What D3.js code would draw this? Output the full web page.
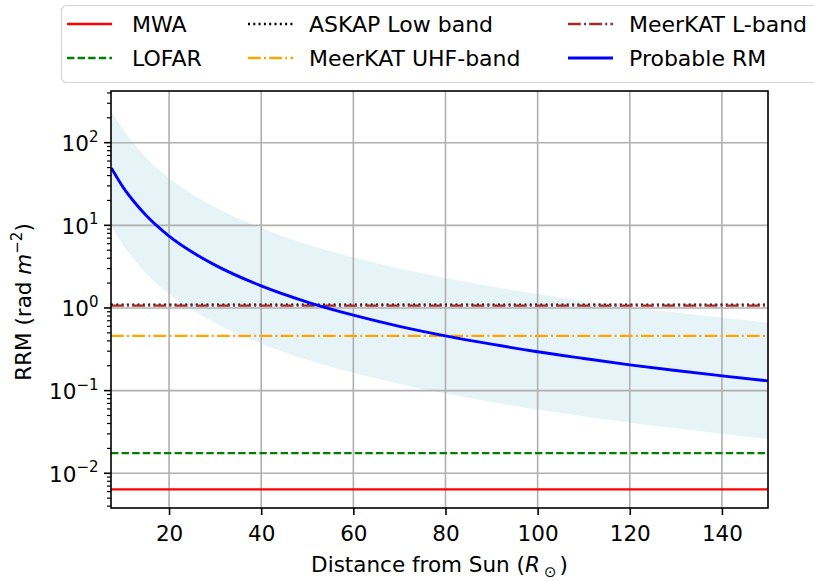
<!DOCTYPE html>
<html>
<head>
<meta charset="utf-8">
<script src="https://cdn.jsdelivr.net/npm/d3@7"></script>
<style>
body { margin: 0; background: #fff; }
text { font-family: "DejaVu Sans", sans-serif; fill: #000; }
</style>
</head>
<body>
<svg id="chart" width="814" height="581"></svg>
<script>
// values
var distance   = [7.5, 10, 12.5, 15, 20, 25, 30, 40, 50, 60, 70, 80, 90, 100, 110, 120, 130, 140, 150];
var probableRM = [49, 29, 19, 13.2, 7.4, 4.75, 3.3, 1.85, 1.18, 0.82, 0.60, 0.46, 0.365, 0.295, 0.245, 0.205, 0.175, 0.151, 0.131];
var rmUpper    = [237, 145, 95, 66, 37, 24, 16.5, 9.3, 5.9, 4.1, 3.0, 2.3, 1.82, 1.48, 1.22, 1.03, 0.88, 0.76, 0.66];
var rmLower    = [9.8, 5.8, 3.8, 2.6, 1.48, 0.95, 0.66, 0.37, 0.236, 0.164, 0.12, 0.092, 0.073, 0.059, 0.049, 0.041, 0.035, 0.030, 0.026];

var instruments   = ["MWA", "LOFAR", "ASKAP Low band", "MeerKAT UHF-band", "MeerKAT L-band"];
var instrumentRRM = [0.0064, 0.0175, 1.1, 0.46, 1.07];

var xTicks = [20, 40, 60, 80, 100, 120, 140];
var yTicks = [1e-2, 1e-1, 1e0, 1e1, 1e2];
var yExponents = ["\u22122", "\u22121", "0", "1", "2"];

var lineStyles = [
  { color: "#ff0000", dash: null },
  { color: "#008000", dash: "7.4,3.2" },
  { color: "#000000", dash: "2,3.3" },
  { color: "#ffa500", dash: "12.8,3.2,2,3.2" },
  { color: "#a52a2a", dash: "12.8,3.2,2,3.2" }
];

var svg = d3.select("#chart");
var plotL = 111, plotT = 91, plotR = 768, plotB = 508;

var x = d3.scaleLinear().domain([7.4, 150]).range([plotL, plotR]);
var y = d3.scaleLog().domain([0.0038, 422]).range([plotB, plotT]);

svg.append("defs").append("clipPath").attr("id", "plotclip")
  .append("rect").attr("x", plotL).attr("y", plotT)
  .attr("width", plotR - plotL).attr("height", plotB - plotT);

// band
var band = d3.area()
  .x(function(d, i) { return x(distance[i]); })
  .y0(function(d, i) { return y(rmLower[i]); })
  .y1(function(d, i) { return y(rmUpper[i]); })
  .curve(d3.curveMonotoneX);

svg.append("path")
  .datum(distance)
  .attr("clip-path", "url(#plotclip)")
  .attr("d", band)
  .attr("fill", "#add8e6")
  .attr("fill-opacity", 0.3);

// grid
var grid = svg.append("g").attr("stroke", "#b0b0b0").attr("stroke-width", 1.6);
grid.selectAll(".gx").data(xTicks).enter().append("line")
  .attr("x1", d => x(d)).attr("x2", d => x(d))
  .attr("y1", plotT).attr("y2", plotB);
grid.selectAll(".gy").data(yTicks).enter().append("line")
  .attr("x1", plotL).attr("x2", plotR)
  .attr("y1", d => y(d)).attr("y2", d => y(d));

// instrument lines
var lines = svg.append("g").attr("clip-path", "url(#plotclip)");
instruments.forEach(function(name, i) {
  lines.append("line")
    .attr("x1", x(7.4)).attr("x2", x(150))
    .attr("y1", y(instrumentRRM[i])).attr("y2", y(instrumentRRM[i]))
    .attr("stroke", lineStyles[i].color)
    .attr("stroke-width", 2.3)
    .attr("stroke-dasharray", lineStyles[i].dash);
});

// probable RM
var rmLine = d3.line()
  .x(function(d, i) { return x(distance[i]); })
  .y(function(d, i) { return y(probableRM[i]); })
  .curve(d3.curveMonotoneX);

lines.append("path")
  .datum(distance)
  .attr("d", rmLine)
  .attr("fill", "none")
  .attr("stroke", "#0000ff")
  .attr("stroke-width", 2.9);

// axes
var xAxis = d3.axisBottom(x).tickValues(xTicks).tickSize(7).tickPadding(8).tickFormat(d3.format("d"));
var gx = svg.append("g").attr("transform", "translate(0," + plotB + ")").call(xAxis);
gx.select(".domain").remove();
gx.selectAll(".tick line").attr("stroke", "#000").attr("stroke-width", 1.6);
gx.selectAll(".tick text").attr("font-size", 21.5).attr("font-family", "DejaVu Sans")
  .attr("y", 0).attr("dy", 33);

var minor = [];
[-3, -2, -1, 0, 1, 2].forEach(function(k) {
  for (var m = 2; m <= 9; m++) {
    var v = m * Math.pow(10, k);
    if (v > 0.0038 && v < 422) minor.push(v);
  }
});
var ga = svg.append("g");
ga.selectAll(".minor").data(minor).enter().append("line")
  .attr("x1", plotL - 4).attr("x2", plotL)
  .attr("y1", d => y(d)).attr("y2", d => y(d))
  .attr("stroke", "#000").attr("stroke-width", 1.2);
ga.selectAll(".major").data(yTicks).enter().append("line")
  .attr("x1", plotL - 7).attr("x2", plotL)
  .attr("y1", d => y(d)).attr("y2", d => y(d))
  .attr("stroke", "#000").attr("stroke-width", 1.6);

var ylab = ga.selectAll(".ylab").data(yTicks).enter().append("text")
  .attr("x", 98.5).attr("y", d => y(d) + 8.4)
  .attr("text-anchor", "end").attr("font-size", 21.5);
ylab.append("tspan").text("10");
ylab.append("tspan").attr("dy", -9.5).attr("font-size", 15).text((d, i) => yExponents[i]);

// spines
svg.append("rect").attr("x", plotL).attr("y", plotT)
  .attr("width", plotR - plotL).attr("height", plotB - plotT)
  .attr("fill", "none").attr("stroke", "#000").attr("stroke-width", 1.6);

// axis labels
var xl = svg.append("text").attr("x", (plotL + plotR) / 2).attr("y", 572)
  .attr("text-anchor", "middle").attr("font-size", 21.5);
xl.append("tspan").text("Distance from Sun (");
xl.append("tspan").attr("font-style", "italic").text("R");
xl.append("tspan").attr("font-size", 15).attr("dx", 4).attr("dy", 5).text("\u2299");
xl.append("tspan").attr("dx", 3).attr("dy", -5).text(")");

var yl = svg.append("text")
  .attr("transform", "translate(31," + 302 + ") rotate(-90)")
  .attr("text-anchor", "middle").attr("font-size", 21.5);
yl.append("tspan").text("RRM (rad ");
yl.append("tspan").attr("font-style", "italic").text("m");
yl.append("tspan").attr("font-size", 15).attr("dy", -9).text("\u22122");
yl.append("tspan").attr("dy", 9).text(")");

// legend
var legendNames = instruments.concat(["Probable RM"]);
var legendStyles = lineStyles.concat([{ color: "#0000ff", dash: null }]);
var legend = svg.append("g");
legend.append("rect").attr("x", 61.5).attr("y", 5.5).attr("width", 800).attr("height", 77)
  .attr("rx", 5).attr("fill", "#fff").attr("stroke", "#d6d6d6").attr("stroke-width", 1.2);
var colX = [67, 248, 568], textX = [132, 309, 629], rowY = [24, 58];
legendNames.forEach(function(name, i) {
  var c = Math.floor(i / 2), cy = rowY[i % 2];
  legend.append("line")
    .attr("x1", colX[c]).attr("x2", colX[c] + 45).attr("y1", cy).attr("y2", cy)
    .attr("stroke", legendStyles[i].color)
    .attr("stroke-width", i === 5 ? 2.9 : 2.3)
    .attr("stroke-dasharray", legendStyles[i].dash);
  legend.append("text").attr("x", textX[c]).attr("y", cy + 8)
    .attr("font-size", 22).text(name);
});
</script>
</body>
</html>
